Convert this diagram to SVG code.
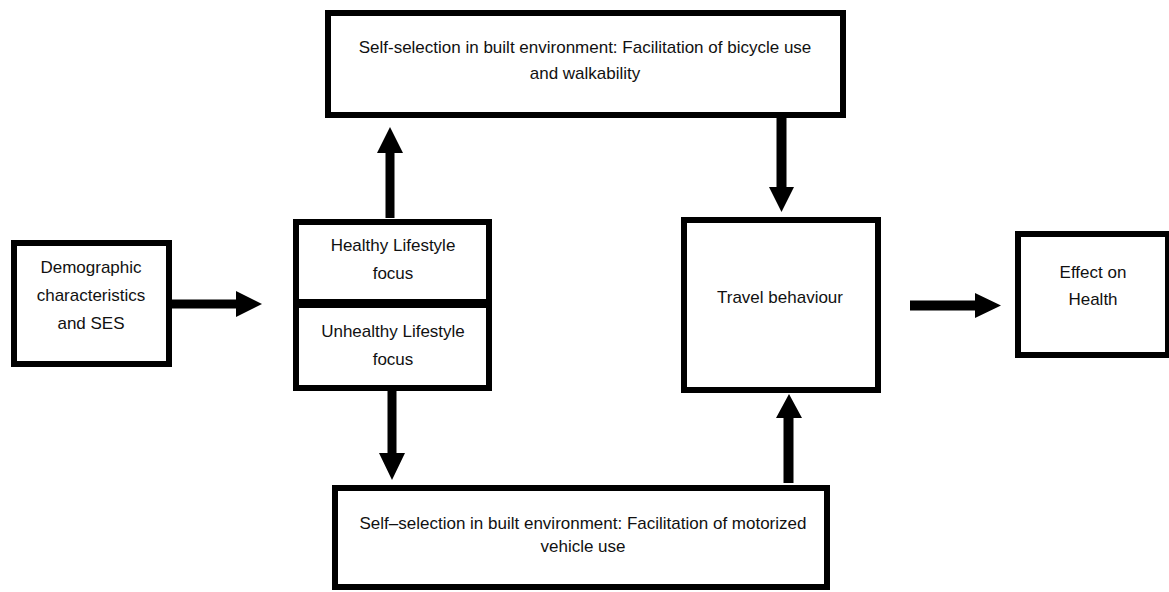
<svg xmlns="http://www.w3.org/2000/svg" width="1169" height="592" viewBox="0 0 1169 592">
<style>
.box{fill:#fff;stroke:#000;stroke-width:6}
.t{font-family:"Liberation Sans",Arial,sans-serif;font-size:17px;fill:#111;text-anchor:middle}
</style>
<rect width="1169" height="592" fill="#fff"/>
<g id="demographic">
<rect class="box" x="14" y="243" width="155" height="121"/>
<text class="t" x="91" y="273">Demographic</text>
<text class="t" x="91" y="301">characteristics</text>
<text class="t" x="91" y="329">and SES</text>
</g>
<g id="lifestyle">
<rect class="box" x="296" y="222" width="193" height="166"/>
<rect x="293" y="299" width="199" height="9" fill="#000"/>
<text class="t" x="393" y="251">Healthy Lifestyle</text>
<text class="t" x="393" y="279">focus</text>
<text class="t" x="393" y="337">Unhealthy Lifestyle</text>
<text class="t" x="393" y="365">focus</text>
</g>
<g id="bicycle">
<rect class="box" x="328" y="13" width="515" height="102"/>
<text class="t" x="585" y="53">Self-selection in built environment: Facilitation of bicycle use</text>
<text class="t" x="585" y="79">and walkability</text>
</g>
<g id="motorized">
<rect class="box" x="335" y="488" width="492" height="99"/>
<text class="t" x="583" y="529">Self–selection in built environment: Facilitation of motorized</text>
<text class="t" x="583" y="552">vehicle use</text>
</g>
<g id="travel">
<rect class="box" x="684" y="220" width="194" height="170"/>
<text class="t" x="780" y="303">Travel behaviour</text>
</g>
<g id="health">
<rect class="box" x="1018" y="234" width="150" height="121"/>
<text class="t" x="1093" y="278">Effect on</text>
<text class="t" x="1093" y="305">Health</text>
</g>
<g id="connectors">
<path d="M172 299.5H236V291L262 304L236 317V308.5H172Z"/>
<path d="M910 300.5H975V293L1001 305.5L975 318V310.5H910Z"/>
<path d="M385.5 218V153H377L390 127L403 153H394.5V218Z"/>
<path d="M776.5 117V187H769L781.5 212L794 187H786.5V117Z"/>
<path d="M387.5 390V453H379L392 480L405 453H396.5V390Z"/>
<path d="M783.5 483V418H776L789 394L802 418H793.5V483Z"/>
</g>
</svg>
